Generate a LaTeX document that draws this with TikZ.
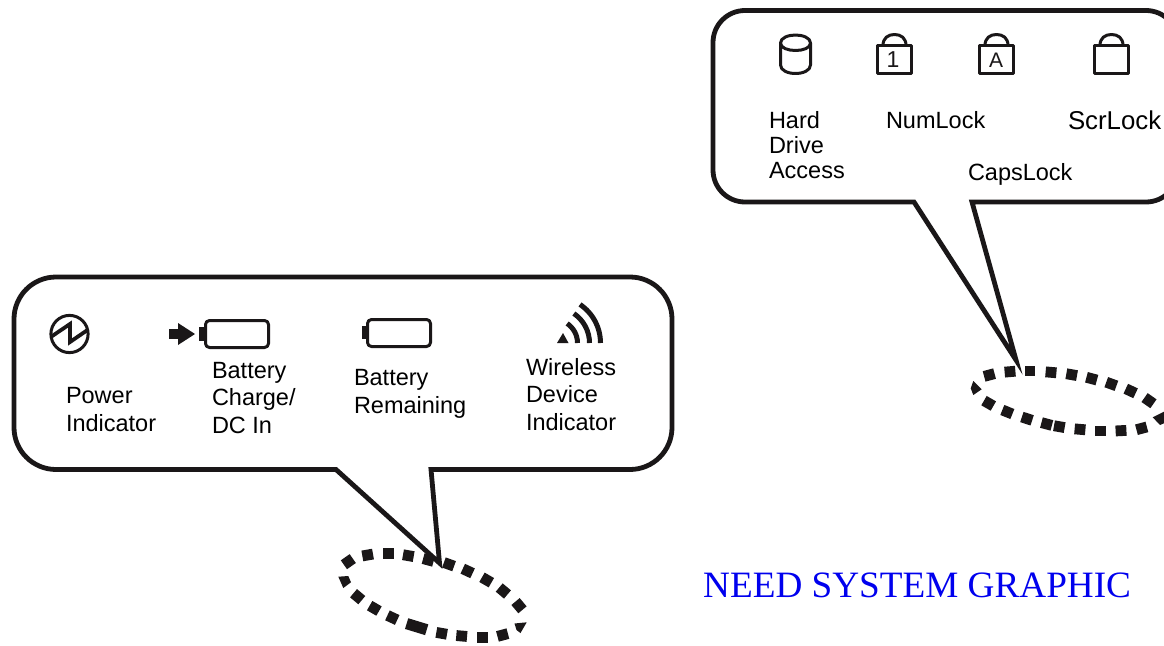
\documentclass[tikz,border=0pt]{standalone}
\usepackage{fontspec}
\setmainfont{Liberation Sans}
\newfontfamily\serifface{Liberation Serif}
\definecolor{inkblack}{HTML}{1A1718}
\tikzset{
  x=1pt,y=-1pt,
  bubble/.style={draw=inkblack,fill=white,line width=4.8pt,line join=miter},
  icon/.style={draw=inkblack,line width=3pt,line join=round},
  lbl/.style={text=black,inner sep=0pt,outer sep=0pt,anchor=base west,align=left},
  lblA/.style={lbl,font=\fontsize{23.5}{27.5}\selectfont},
  lblB/.style={lbl,font=\fontsize{23.5}{25}\selectfont},
  lblC/.style={lbl,font=\fontsize{25.8}{27}\selectfont},
  lockglyph/.style={text=inkblack,inner sep=0pt},
  need/.style={text={rgb,255:red,0;green,0;blue,238},inner sep=0pt,anchor=base west,font=\serifface\fontsize{37.2}{40}\selectfont},
}
\begin{document}
\begin{tikzpicture}
\useasboundingbox (0,0) rectangle (1164,645);
\clip (0,0) rectangle (1164,645);
\fill[white] (0,0) rectangle (1164,645);

% dotted ellipse, lower left
\foreach \px/\py/\a in {85/305/-35,143/285/-10,205/280/0,265/287/10,325/300/15,387/313/20,443/333/25,500/360/30,550/393/40,597/437/50,548/525/-15,487/532/0,425/528/5,365/520/10,217/473/25,163/445/30,113/410/40}{
  \fill[inkblack,shift={({320+\px/3},{460+\py/3})},rotate=-\a] (-5.4,-5.4) rectangle (5.4,5.4);
}
\fill[inkblack,shift={({320+290/3},{460+500/3})},rotate=-17] (-10.5,-5.6) rectangle (10.5,5.6);
\fill[inkblack] (338.3,576.7) -- (348.3,576) -- (351,582.3) -- (343.3,588) -- cycle;
\fill[inkblack] (514.5,623.5) -- (526.7,622.3) -- (520.5,633) -- (516.5,630) -- cycle;

% dotted ellipse, right
\foreach \px/\py/\a in {118/105/-15,180/95/-5,240/93/0,303/97/5,365/104/10,425/116/15,484/132/20,542/153/25,597/182/35,575/265/-15,513/272/-3,451/273/0,390/268/5,328/260/10,290/252/15,231/236/18,172/216/22,116/190/30}{
  \fill[inkblack,shift={({950+\px/3},{340+\py/3})},rotate=-\a] (-5.4,-5.4) rectangle (5.4,5.4);
}
\fill[inkblack] (973.3,381) -- (981.7,389.3) -- (973.3,395) -- (970.7,388.3) -- cycle;
\fill[inkblack] (1152.7,417.3) -- (1164,411.7) -- (1164,423.3) -- (1160,425) -- cycle;

% bubbles
\draw[bubble,rounded corners=42] (300,277) -- (672,277) -- (672,469.5)
  [sharp corners] -- (431,469.5) -- (439.5,563) -- (336,469.5)
  [rounded corners=42] -- (14,469.5) -- (14,277) -- cycle;
\draw[bubble,rounded corners=32] (900,10.5) -- (1178,10.5) -- (1178,202)
  [sharp corners] -- (972,202) -- (1016,360) -- (914,202)
  [rounded corners=32] -- (713,202) -- (713,10.5) -- cycle;

% power icon
\draw[icon] (69.5,334) circle[radius=18.6];
\draw[inkblack,line width=3.8pt,line join=miter] (51.5,336.5) -- (70,324) -- (70,342) -- (87.5,330);

% charge arrow and batteries
\fill[inkblack] (169,329) rectangle (178,339);
\fill[inkblack] (178,323) -- (195,334) -- (178,345) -- cycle;
\draw[icon,rounded corners=4] (205.5,320.5) rectangle (268.5,347.5);
\fill[inkblack] (199,327) rectangle (204,341);
\draw[icon,rounded corners=4] (367.5,319.5) rectangle (430.5,346.5);
\fill[inkblack] (362,326) rectangle (366,339);

% wireless icon
\fill[inkblack] (557,343) -- (563,333) -- (568.5,343) -- cycle;
\foreach \r in {23.5,35.5,46.5}{
  \draw[inkblack,line width=5pt] plot[smooth,domain=0:56,samples=9] ({554+\r*cos(\x)},{343-\r*sin(\x)});
}

% hard drive icon
\draw[icon] (780.5,43) .. controls (780.5,38) and (788,35) .. (795.5,35)
  .. controls (803,35) and (810.5,38) .. (810.5,43)
  .. controls (810.5,48) and (803,50.5) .. (795.5,50.5)
  .. controls (788,50.5) and (780.5,48) .. (780.5,43)
  -- (780.5,65) .. controls (780.5,70.5) and (788,73.5) .. (795.5,73.5)
  .. controls (803,73.5) and (810.5,70.5) .. (810.5,65) -- (810.5,43);

% padlocks
\foreach \lx in {877,979,1094}{
  \draw[icon] (\lx,45.5) rectangle ({\lx+34},73);
  \draw[icon] ({\lx+6},45.5) .. controls ({\lx+6},38) and ({\lx+11},34.5) .. ({\lx+17.5},34.5)
    .. controls ({\lx+24},34.5) and ({\lx+29},38) .. ({\lx+29},45.5);
}
\node[lockglyph,font=\fontsize{23}{23}\selectfont] (digitone) at (893,59.5) {1};
\node[lockglyph,font=\fontsize{21}{21}\selectfont] (lettera) at (996,60) {A};

% labels
\node[lblA] (power) at (66,431) {Power\\Indicator};
\node[lblA] (charge) at (212,433) {Battery\\Charge/\\DC In};
\node[lblA] (remain) at (354,413) {Battery\\Remaining};
\node[lblA] (wireless) at (526,430) {Wireless\\Device\\Indicator};
\node[lblB] (hdd) at (769,178) {Hard\\Drive\\Access};
\node[lblB] (numlock) at (886,128) {NumLock};
\node[lblC] (scrlock) at (1068,129.5) {ScrLock};
\node[lblB] (capslock) at (968,180) {CapsLock};
\node[need] (needgraphic) at (703,597) {NEED SYSTEM GRAPHIC};
\end{tikzpicture}
\end{document}
